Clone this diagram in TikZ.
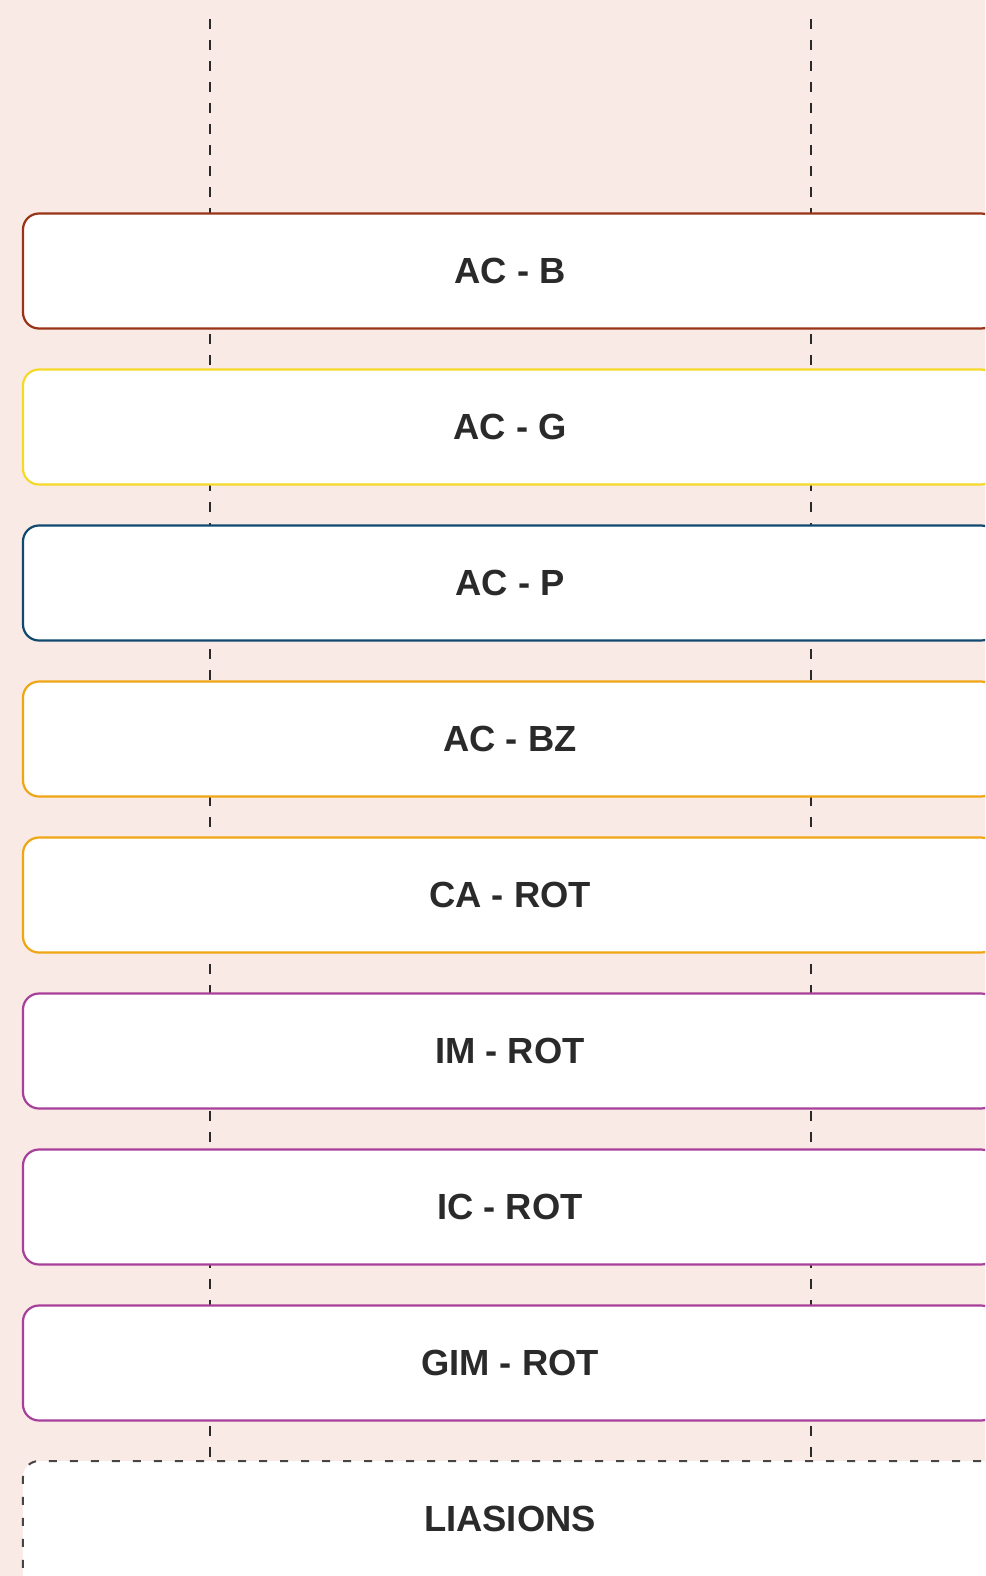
\documentclass[tikz,border=0pt]{standalone}
\usepackage{fontspec}
\setmainfont{Liberation Sans}
\definecolor{bgc}{HTML}{F9EAE6}
\definecolor{cbrown}{HTML}{993318}
\definecolor{cyellow}{HTML}{F5D928}
\definecolor{cblue}{HTML}{10496F}
\definecolor{corange}{HTML}{F0A515}
\definecolor{cpurple}{HTML}{A8409A}
\definecolor{cline}{HTML}{2A2A2A}
\definecolor{cdash}{HTML}{454545}
\tikzset{
  phase/.style={draw=#1, fill=white, line width=2.2bp, rounded corners=16bp,
    minimum width=974bp, minimum height=115bp, inner sep=0pt,
    font=\fontsize{36.5}{40}\selectfont\bfseries, text=cline},
  lifeline/.style={draw=cline, line width=2bp, dash pattern=on 10bp off 11bp},
  reserve/.style={draw=cdash, fill=white, line width=2bp, rounded corners=16bp,
    dash pattern=on 8bp off 13bp,
    minimum width=974bp, minimum height=130bp, inner sep=0pt, text depth=14bp,
    font=\fontsize{36.5}{40}\selectfont\bfseries, text=cline}
}
\begin{document}
\begin{tikzpicture}[x=1bp,y=-1bp]
\useasboundingbox (0,0) rectangle (985,1576);
\clip (0,0) rectangle (985,1576);
\fill[bgc] (0,0) rectangle (985,1576);
\coordinate (t1) at (210,19);
\coordinate (t2) at (811,19);
\node[reserve] (li) at (510,1526) {LIASIONS};
\draw[lifeline] (t1) -- (t1 |- li.north);
\draw[lifeline] (t2) -- (t2 |- li.north);
\node[phase=cbrown] (acb) at (510,271) {AC - B};
\node[phase=cyellow] (acg) at (510,427) {AC - G};
\node[phase=cblue] (acp) at (510,583) {AC - P};
\node[phase=corange] (acbz) at (510,739) {AC - BZ};
\node[phase=corange] (carot) at (510,895) {CA - ROT};
\node[phase=cpurple] (imrot) at (510,1051) {IM - ROT};
\node[phase=cpurple] (icrot) at (510,1207) {IC - ROT};
\node[phase=cpurple] (gimrot) at (510,1363) {GIM - ROT};
\end{tikzpicture}
\end{document}
